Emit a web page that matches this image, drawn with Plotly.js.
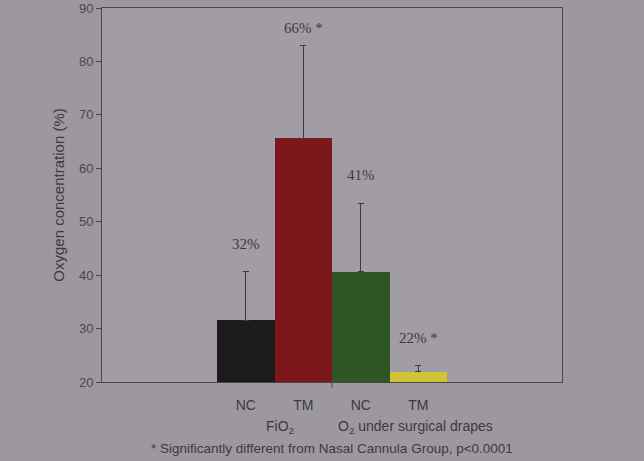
<!DOCTYPE html>
<html>
<head>
<meta charset="utf-8">
<script src="https://cdn.plot.ly/plotly-3.0.1.min.js"></script>
<style>html,body{margin:0;padding:0;background:#9d989f;}#chart{width:644px;height:461px;}</style>
</head>
<body>
<div id="chart"></div>
<script>
const categories = ["FiO2 NC", "FiO2 TM", "Drapes NC", "Drapes TM"];
const tickLabels = ["NC", "TM", "NC", "TM"];
const means = [31.6, 65.6, 40.6, 21.9];
const sdUp = [9.0, 17.3, 12.9, 1.1];
const valueLabels = ["32%", "66% *", "41%", "22% *"];
const barColors = ["#1c1a1d", "#7c171b", "#305524", "#cfc431"];
const groupLabels = ["FiO<sub>2</sub>", "O<sub>2</sub> under surgical drapes"];
const footnote = "* Significantly different from Nasal Cannula Group, p<0.0001";

const yRange = [20, 90];
const plotH = 461 - 8 - 79;
const pxPerUnit = plotH / (yRange[1] - yRange[0]);

const trace = {
  type: "bar",
  x: categories,
  y: means,
  width: 1,
  marker: {color: barColors, line: {width: 0}},
  error_y: {type: "data", symmetric: false, array: sdUp, arrayminus: [0,0,0,0],
            color: "#3e3b40", thickness: 1, width: 3},
  hoverinfo: "skip"
};

const annotations = categories.map((c, i) => {
  const top = means[i] + sdUp[i];
  const room = (yRange[1] - top) * pxPerUnit;
  return {
    x: c, y: top, xref: "x", yref: "y",
    text: valueLabels[i], showarrow: false, yanchor: "middle",
    yshift: Math.min(28, room - 20),
    font: {family: "Liberation Serif, Times New Roman, serif", size: 15, color: "#3c3940"}
  };
});
annotations.push(
  {x: 0.6, y: 0, xref: "x", yref: "paper", text: groupLabels[0], showarrow: false,
   yanchor: "top", yshift: -34,
   font: {family: "Liberation Sans, Arial, sans-serif", size: 14, color: "#3c3940"}},
  {x: 2.95, y: 0, xref: "x", yref: "paper", text: groupLabels[1], showarrow: false,
   yanchor: "top", yshift: -34,
   font: {family: "Liberation Sans, Arial, sans-serif", size: 14, color: "#3c3940"}},
  {x: 0.5, y: 0, xref: "paper", yref: "paper", text: footnote, showarrow: false,
   yanchor: "top", yshift: -57,
   font: {family: "Liberation Sans, Arial, sans-serif", size: 13.5, color: "#3c3940"}}
);

const layout = {
  width: 644, height: 461,
  margin: {l: 102, r: 82, t: 8, b: 79},
  paper_bgcolor: "#9d989f",
  plot_bgcolor: "#a29da4",
  showlegend: false,
  bargap: 0,
  xaxis: {
    type: "category", range: [-2.5, 5.5], tickmode: "array",
    tickvals: categories, ticktext: tickLabels,
    ticks: "", showgrid: false, zeroline: false, ticklabelstandoff: 10,
    showline: true, linecolor: "#4a474d", linewidth: 1, mirror: true,
    tickfont: {family: "Liberation Sans, Arial, sans-serif", size: 14, color: "#3c3940"}
  },
  yaxis: {
    range: yRange, tickvals: [20,30,40,50,60,70,80,90],
    ticks: "outside", ticklen: 5, tickcolor: "#4a474d", showgrid: false, zeroline: false,
    showline: true, linecolor: "#4a474d", linewidth: 1, mirror: true,
    tickfont: {family: "Liberation Sans, Arial, sans-serif", size: 13, color: "#4a4650"},
    title: {text: "Oxygen concentration (%)", standoff: 10,
            font: {family: "Liberation Sans, Arial, sans-serif", size: 15, color: "#3c3940"}}
  },
  annotations: annotations,
  shapes: [{type: "line", xref: "x", yref: "paper", x0: 1.5, x1: 1.5, y0: 0, y1: -0.015,
            line: {color: "#4a474d", width: 1}}]
};

Plotly.newPlot("chart", [trace], layout, {displayModeBar: false, staticPlot: true});
</script>
</body>
</html>
